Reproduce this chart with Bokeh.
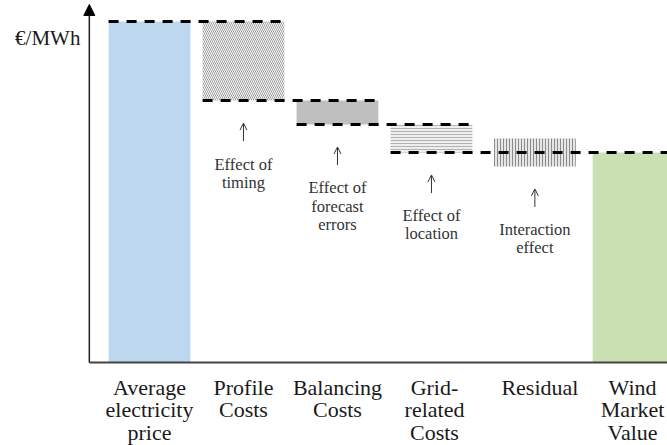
from bokeh.plotting import figure
from bokeh.models import Range1d, Arrow, NormalHead, OpenHead, ColumnDataSource
from bokeh.core.properties import value
from bokeh.embed import file_html
from bokeh.resources import INLINE

# ---- data ----
categories = ["Average\nelectricity\nprice", "Profile\nCosts", "Balancing\nCosts",
              "Grid-\nrelated\nCosts", "Residual", "Wind\nMarket\nValue"]
average_price = 100.0
cost_steps = [23.2, 7.0, 8.2]          # profile, balancing, grid-related
residual_span = 8.2                     # interaction effect (straddles final level)
annotations = ["Effect of\ntiming", "Effect of\nforecast\nerrors",
               "Effect of\nlocation", "Interaction\neffect"]
y_label = "€/MWh"

# ---- layout ----
slots = [0, 1, 2, 3, 4.1, 5.15]
label_shift = [0, 0, 0, 3, 5, -1]       # px nudges of the category labels
bw = 0.87
axis_x = -0.64
FONT = value("Liberation Serif")

# derived levels
levels = [average_price]
for c in cost_steps:
    levels.append(levels[-1] - c)
market_value = levels[-1]

p = figure(width=667, height=445, x_range=Range1d(-1.585, 5.511), y_range=Range1d(-24.34, 106.16),
           output_backend="svg", toolbar_location=None, x_axis_type=None, y_axis_type=None,
           min_border=0)
p.outline_line_color = None

# average price
p.vbar(x=[slots[0]], width=bw, top=[average_price], bottom=[0], fill_color="#bdd7ee", line_color=None)
# profile
p.vbar(x=[slots[1]], width=bw, top=[levels[0]], bottom=[levels[1]], fill_color="white",
       hatch_pattern="\\", hatch_color="#9a9a9a", hatch_scale=4, hatch_weight=1, line_color=None)
# balancing
p.vbar(x=[slots[2]], width=bw, top=[levels[1]], bottom=[levels[2]], fill_color="#bfbfbf", line_color=None)
# grid
p.vbar(x=[slots[3]], width=bw, top=[levels[2]], bottom=[levels[3]], fill_color="#eeeeee",
       hatch_pattern="-", hatch_color="#b3b3b3", hatch_scale=3, hatch_weight=1, line_color=None)
# residual
p.vbar(x=[slots[4]], width=bw, top=[market_value + residual_span / 2], bottom=[market_value - residual_span / 2],
       fill_color="#e6e6e6", hatch_pattern="|", hatch_color="#8c8c8c", hatch_scale=3, hatch_weight=1,
       line_color=None)
# market value
p.vbar(x=[slots[5]], width=bw, top=[market_value], bottom=[0], fill_color="#c8e0b2", line_color=None)

# dashed level lines
x0 = [slots[0] - bw / 2, slots[1] - bw / 2, slots[2] - bw / 2, slots[3] - bw / 2]
x1 = [slots[1] + bw / 2, slots[2] + bw / 2, slots[3] + bw / 2, slots[5] + bw / 2]
p.segment(x0=x0, y0=levels, x1=x1, y1=levels, line_color="black", line_width=3, line_dash="10 8")

# axes
p.segment(x0=[axis_x], y0=[0], x1=[6], y1=[0], line_color="#444444", line_width=2)
p.add_layout(Arrow(end=NormalHead(size=11, fill_color="black", line_color="black"),
                   x_start=axis_x, y_start=0, x_end=axis_x, y_end=105,
                   line_color="#222222", line_width=1.5))

# category labels
cat_src = ColumnDataSource(dict(x=slots, y=[0] * 6, t=categories, dx=label_shift))
p.text(x="x", y="y", text="t", x_offset="dx", source=cat_src, text_font=FONT, text_font_size="22px",
       text_align="center", text_baseline="top", text_line_height=0.9, y_offset=12,
       text_color="#1a1a1a")

# annotation arrows and texts
bottoms = [levels[1], levels[2], levels[3], market_value - residual_span / 2]
for xs, b in zip(slots[1:5], bottoms):
    p.add_layout(Arrow(end=OpenHead(size=7, line_width=1, line_color="#333333"),
                       x_start=xs, y_start=b - 11.9, x_end=xs, y_end=b - 6.6,
                       line_color="#333333", line_width=1))
src = ColumnDataSource(dict(x=slots[1:5], y=bottoms, t=annotations))
p.text(x="x", y="y", text="t", source=src, text_font=FONT, text_font_size="16.5px",
       text_align="center", text_baseline="top", text_line_height=0.95, y_offset=54,
       text_color="#333333")

# y label
p.text(x=[-1.43], y=[95.3], text=[y_label], text_font=FONT, text_font_size="21px",
       text_align="left", text_baseline="middle", text_color="#1a1a1a")

open("out.html", "w").write(file_html(p, INLINE))
